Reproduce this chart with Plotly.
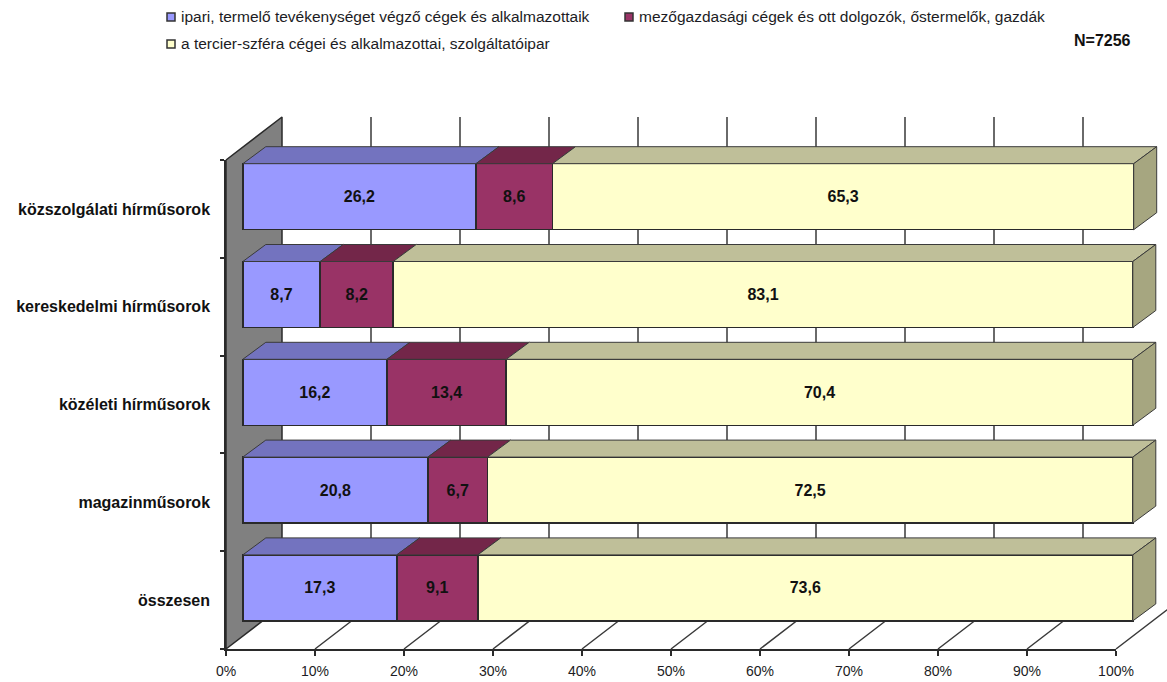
import plotly.graph_objects as go

# ---- data ----
categories = ["közszolgálati hírműsorok", "kereskedelmi hírműsorok", "közéleti hírműsorok",
              "magazinműsorok", "összesen"]
series_names = ["ipari, termelő tevékenységet végző cégek és alkalmazottaik",
                "mezőgazdasági cégek és ott dolgozók, őstermelők, gazdák",
                "a tercier-szféra cégei és alkalmazottai, szolgáltatóipar"]
ipari = [26.2, 8.7, 16.2, 20.8, 17.3]
mezo = [8.6, 8.2, 13.4, 6.7, 9.1]
tercier = [65.3, 83.1, 70.4, 72.5, 73.6]
x_ticks = [0, 10, 20, 30, 40, 50, 60, 70, 80, 90, 100]
note = "N=7256"

# ---- style ----
W, H = 1167, 682
FONT = "Liberation Sans"
INK = "#1c1c24"
EDGE = "#2a2a2a"
front = ["#9999FF", "#993366", "#FFFFCC"]
top = ["#7373BF", "#732649", "#BFBF99"]
side = ["#5C5C99", "#5C1F3D", "#A6A680"]
PX, PY = 8.9, 97.8                # pixels per axis unit
L, R, T, B = 226, 1116, 160, 649  # front-floor plot rectangle in pixels
WALL_X, WALL_Y = 56 / PX, 43 / PY # depth of the chart box
BAR_X, BAR_Y = 23 / PX, 17 / PY   # depth of a bar
SHIFT_X, SHIFT_Y = 16.8 / PX, 12.2 / PY
BAR_W = 66 / PY

idx = list(range(len(categories)))
edges = [i - 0.5 for i in range(len(categories) + 1)]
series = [ipari, mezo, tercier]


def fmt(v):
    return f"{v:.1f}".replace(".", ",")


fig = go.Figure()

# invisible carrier so the labelled front axes are drawn
fig.add_trace(go.Scatter(x=ipari, y=idx, mode="none", xaxis="x", yaxis="y",
                         showlegend=False, hoverinfo="skip"))

# chart box: grey wall and grid lines, on full-canvas axes sharing the floor scale
fig.add_trace(go.Scatter(
    x=[0, WALL_X, WALL_X, 0, 0],
    y=[edges[0], edges[0] - WALL_Y, edges[-1] - WALL_Y, edges[-1], edges[0]],
    mode="lines", fill="toself", fillcolor="#808080",
    line=dict(color=EDGE, width=1.5), xaxis="x2", yaxis="y2", showlegend=False, hoverinfo="skip"))
gx, gy = [], []
for t in x_ticks[1:]:
    gx += [t + WALL_X, t + WALL_X, t, None]
    gy += [edges[0] - WALL_Y, edges[-1] - WALL_Y, edges[-1], None]
fig.add_trace(go.Scatter(x=gx, y=gy, mode="lines", line=dict(color="#3a3a3a", width=1.5),
                         xaxis="x2", yaxis="y2", showlegend=False, hoverinfo="skip"))

# bars, on overlay axes shifted forward of the floor
for s, name in enumerate(series_names):
    fig.add_trace(go.Bar(
        y=idx, x=series[s], name=name, orientation="h", width=BAR_W,
        marker=dict(color=front[s], line=dict(color=EDGE, width=1.5)),
        text=[fmt(v) for v in series[s]], textposition="inside", insidetextanchor="middle",
        textangle=0, constraintext="none",
        textfont=dict(family=FONT, size=16, color="#111111", weight="bold"),
        xaxis="x3", yaxis="y3", showlegend=False, hoverinfo="skip"))

# top and right faces of the bars
for i in idx:
    start = 0
    y_top = i - BAR_W / 2
    y_bot = i + BAR_W / 2
    for s in range(len(series)):
        end = start + series[s][i]
        fig.add_trace(go.Scatter(
            x=[start, end, end + BAR_X, start + BAR_X, start],
            y=[y_top, y_top, y_top - BAR_Y, y_top - BAR_Y, y_top],
            mode="lines", fill="toself", fillcolor=top[s], line=dict(color="#3a3a3a", width=1),
            xaxis="x3", yaxis="y3", showlegend=False, hoverinfo="skip"))
        start = end
    fig.add_trace(go.Scatter(
        x=[start, start + BAR_X, start + BAR_X, start, start],
        y=[y_top, y_top - BAR_Y, y_bot - BAR_Y, y_bot, y_top],
        mode="lines", fill="toself", fillcolor=side[2], line=dict(color="#3a3a3a", width=1),
        xaxis="x3", yaxis="y3", showlegend=False, hoverinfo="skip"))

x_dom = [L / W, R / W]
y_dom = [1 - B / H, 1 - T / H]
canvas_x = [-L / PX, (W - L) / PX]
canvas_y = [edges[0] + (H - T) / PY, edges[0] - T / PY]

# legend drawn as text and swatches so its two-row spacing can be kept
legend_pos = [(167, 17), (625, 17), (167, 44)]
annotations, shapes = [], []
for s, name in enumerate(series_names):
    px, py = legend_pos[s]
    shapes.append(dict(type="rect", xref="paper", yref="paper",
                       x0=px / W, x1=(px + 8) / W, y0=1 - (py + 4) / H, y1=1 - (py - 4) / H,
                       fillcolor=front[s], line=dict(color="#333333", width=1.5)))
    annotations.append(dict(text=name, xref="paper", yref="paper", x=(px + 12) / W, y=1 - py / H,
                            xanchor="left", yanchor="middle", showarrow=False,
                            font=dict(family=FONT, size=15.5, color=INK)))
annotations.append(dict(text=f"<b>{note}</b>", xref="paper", yref="paper", x=1133 / W, y=1 - 41 / H,
                        xanchor="right", yanchor="middle", showarrow=False,
                        font=dict(family=FONT, size=16, color="#111111")))

fig.update_layout(
    width=W, height=H, margin=dict(l=0, r=0, t=0, b=0, autoexpand=False), autosize=False,
    paper_bgcolor="white", plot_bgcolor="rgba(0,0,0,0)", barmode="stack",
    font=dict(family=FONT), showlegend=False,
    annotations=annotations, shapes=shapes,
    xaxis=dict(domain=x_dom, range=[0, 100], anchor="y", tickvals=x_ticks, ticktext=[f"{t}%" for t in x_ticks],
               ticks="outside", ticklen=5, tickwidth=1.5, tickcolor=EDGE, showline=True, linecolor=EDGE,
               linewidth=1.5, showgrid=False, zeroline=False, ticklabelstandoff=3,
               tickfont=dict(family=FONT, size=14, color=INK)),
    yaxis=dict(domain=y_dom, range=[edges[-1], edges[0]], anchor="x", tickvals=idx, ticktext=categories,
               ticks="", showline=True, linecolor=EDGE, linewidth=1.5, showgrid=False, zeroline=False,
               ticklabelstandoff=11,
               minor=dict(tickvals=edges, ticks="outside", ticklen=4, tickwidth=1.5, tickcolor=EDGE, showgrid=False),
               tickfont=dict(family=FONT, size=16, color="#111111", weight="bold")),
    xaxis2=dict(domain=[0, 1], range=canvas_x, anchor="y2", visible=False),
    yaxis2=dict(domain=[0, 1], range=canvas_y, anchor="x2", visible=False),
    xaxis3=dict(overlaying="x2", range=[canvas_x[0] - SHIFT_X, canvas_x[1] - SHIFT_X], anchor="y3", visible=False),
    yaxis3=dict(overlaying="y2", range=[canvas_y[0] + SHIFT_Y, canvas_y[1] + SHIFT_Y], anchor="x3", visible=False),
)

fig.write_html("out.html", config=dict(displayModeBar=False),
               post_script="document.body.style.margin='0';")
